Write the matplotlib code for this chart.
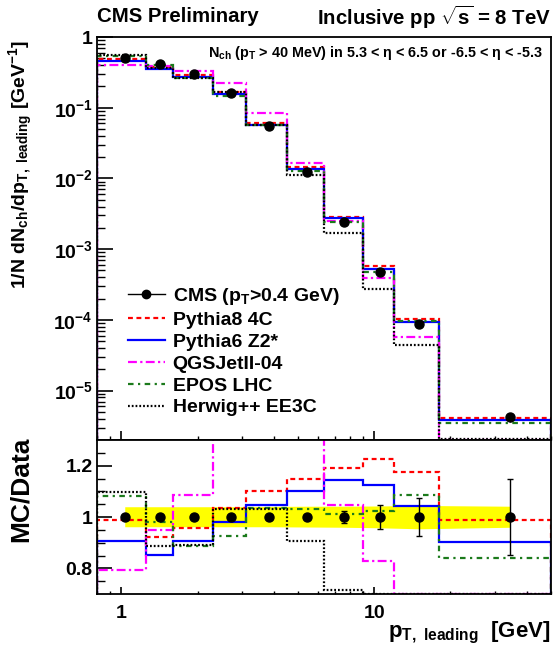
import numpy as np
import matplotlib
matplotlib.use("Agg")
import matplotlib.pyplot as plt
from matplotlib.lines import Line2D
from matplotlib.ticker import FixedLocator, NullFormatter

plt.rcParams['font.family'] = ['Liberation Sans', 'DejaVu Sans']
plt.rcParams['font.weight'] = 'bold'
plt.rcParams['mathtext.fontset'] = 'custom'
plt.rcParams['mathtext.rm'] = 'Liberation Sans:bold'
plt.rcParams['mathtext.it'] = 'Liberation Sans:bold'
plt.rcParams['mathtext.bf'] = 'Liberation Sans:bold'
plt.rcParams['mathtext.sf'] = 'Liberation Sans:bold'

# bin edges in pT,leading [GeV]
edges = [0.8, 1.25, 1.6, 2.3, 3.1, 4.5, 6.3, 9.0, 12.0, 18.0, 50.0]

# CMS data
data_x = [1.03, 1.42, 1.94, 2.71, 3.84, 5.42, 7.58, 10.5, 15.0, 34.4]
data_y = [0.50, 0.41, 0.30, 0.16, 0.055, 0.0125, 2.4e-3, 4.7e-4, 8.8e-5, 4.2e-6]
data_err_rel = [0.005, 0.005, 0.005, 0.005, 0.005, 0.008, 0.022, 0.045, 0.073, 0.147]
band_lo = [0.962, 0.962, 0.962, 0.962, 0.962, 0.961, 0.960, 0.958, 0.954, 0.960]
band_hi = [1.040, 1.040, 1.040, 1.040, 1.041, 1.042, 1.042, 1.043, 1.045, 1.042]

# MC / Data ratios per bin
r_py8 = [0.989, 0.923, 0.958, 1.036, 1.102, 1.149, 1.192, 1.226, 1.174, 0.987]
r_py6 = [0.907, 0.851, 0.907, 0.982, 1.046, 1.103, 1.145, 1.124, 1.044, 0.902]
r_qgs = [0.795, 0.950, 1.086, 1.38, 1.55, 1.31, 1.045, 0.83, 0.65, 0.02]
r_epos = [1.080, 0.980, 0.888, 0.927, 1.034, 1.031, 1.013, 1.023, 1.085, 0.839]
r_herwig = [1.098, 0.887, 0.889, 1.030, 1.030, 0.905, 0.715, 0.59, 0.505, 0.5]

models = [
    ("Pythia8 4C", r_py8, "#ff0000", (0, (2.2, 1.6))),
    ("Pythia6 Z2*", r_py6, "#0000ff", "-"),
    ("QGSJetII-04", r_qgs, "#ff00ff", (0, (4, 1.5, 1, 1.5))),
    ("EPOS LHC", r_epos, "#1b7a1b", (0, (2.5, 2, 1, 2))),
    ("Herwig++ EE3C", r_herwig, "#000000", (0, (0.8, 0.9))),
]

ytick_vals = [1, 1e-1, 1e-2, 1e-3, 1e-4, 1e-5]
ytick_labels = ['1', r'$10^{-1}$', r'$10^{-2}$', r'$10^{-3}$', r'$10^{-4}$', r'$10^{-5}$']

W, H = 555, 656
fig = plt.figure(figsize=(W / 100, H / 100), dpi=100)
left, right = 97 / W, 551 / W
ax = fig.add_axes([left, 1 - 440 / H, right - left, (440 - 37) / H])
rax = fig.add_axes([left, 1 - 594 / H, right - left, (594 - 440) / H])

dy = np.array(data_y)
dx = np.array(data_x)
derr = np.array(data_err_rel)

# upper panel
ymin, ymax = 2e-6, 1.0
for name, r, c, ls in models:
    mc = np.clip(dy * np.array(r), ymin, None)
    ax.stairs(mc, edges, baseline=1e-12, color=c, ls=ls, lw=1.6, zorder=2)
ax.errorbar(dx, dy, yerr=dy * derr, fmt='o', color='k', ms=6.5, lw=1, capsize=0, zorder=5)
ax.set_xscale('log')
ax.set_yscale('log')
ax.set_xlim(0.8, 50)
ax.set_ylim(ymin, ymax)
ax.yaxis.set_major_locator(FixedLocator(ytick_vals))
ax.set_yticklabels(ytick_labels, fontsize=14)
ax.yaxis.set_minor_locator(FixedLocator([m * 10.0 ** e for e in range(-6, 0) for m in range(2, 10)]))
ax.yaxis.set_minor_formatter(NullFormatter())
ax.xaxis.set_major_locator(FixedLocator([1, 10]))
ax.xaxis.set_minor_locator(FixedLocator([0.8, 0.9] + list(range(2, 10)) + [20, 30, 40, 50]))
ax.set_xticklabels([])
ax.xaxis.set_minor_formatter(NullFormatter())
ax.tick_params(axis='y', which='major', direction='in', length=11.5, width=1.2, right=False, pad=3)
ax.tick_params(axis='y', which='minor', direction='in', length=5.5, width=1.0, right=False)
ax.tick_params(axis='x', which='major', direction='in', length=6.5, width=1.2, top=False)
ax.tick_params(axis='x', which='minor', direction='in', length=3, width=1.0, top=False)

ax.text(208 / W, 1 - 53 / H,
        r"N$_{\rm ch}$ (p$_{\rm T}$ > 40 MeV) in 5.3 < $\eta$ < 6.5 or -6.5 < $\eta$ < -5.3",
        transform=fig.transFigure, fontsize=10.4, va='center', ha='left')

handles = [Line2D([], [], color='k', marker='o', ms=6, lw=1)]
labels = [r"CMS (p$_{\rm T}$>0.4 GeV)"]
for name, r, c, ls in models:
    handles.append(Line2D([], [], color=c, ls=ls, lw=1.6))
    labels.append(name)
ax.legend(handles, labels, loc='upper left', bbox_to_anchor=(128 / W, 1 - 286 / H),
          bbox_transform=fig.transFigure, frameon=False, fontsize=14,
          handlelength=1.9, handletextpad=0.4, labelspacing=0.22, borderpad=0, borderaxespad=0)

# ratio panel
rax.fill_between(dx, band_lo, band_hi, color='#ffff00', lw=0, zorder=1)
for name, r, c, ls in models:
    rr = np.clip(np.array(r), 0.7, None)
    rax.stairs(rr, edges, baseline=0, color=c, ls=ls, lw=1.6, zorder=2)
rax.errorbar(dx, np.ones_like(dx), yerr=derr, fmt='o', color='k', ms=6.5, lw=1,
             capsize=2.5, capthick=1, zorder=5)
rax.set_xscale('log')
rax.set_xlim(0.8, 50)
rax.set_ylim(0.7, 1.3)
rax.yaxis.set_major_locator(FixedLocator([0.8, 1.0, 1.2]))
rax.set_yticklabels(['0.8', '1', '1.2'], fontsize=14)
rax.yaxis.set_minor_locator(FixedLocator([0.75, 0.85, 0.9, 0.95, 1.05, 1.1, 1.15, 1.25]))
rax.xaxis.set_major_locator(FixedLocator([1, 10]))
rax.set_xticklabels(['1', '10'], fontsize=14)
rax.xaxis.set_minor_locator(FixedLocator([0.8, 0.9] + list(range(2, 10)) + [20, 30, 40, 50]))
rax.xaxis.set_minor_formatter(NullFormatter())
rax.tick_params(axis='y', which='major', direction='in', length=11, width=1.2, right=False, pad=3)
rax.tick_params(axis='y', which='minor', direction='in', length=5.5, width=1.0, right=False)
rax.tick_params(axis='x', which='major', direction='in', length=5, width=1.2, top=False, pad=8)
rax.tick_params(axis='x', which='minor', direction='in', length=2.5, width=1.0, top=False)

for a in (ax, rax):
    for s in a.spines.values():
        s.set_linewidth(1.3)

# labels and titles
fig.text(97 / W, 1 - 17 / H, "CMS Preliminary", fontsize=14.7, ha='left', va='center')
fig.text(551 / W, 1 - 17 / H, r"Inclusive pp $\sqrt{\rm s}$ = 8 TeV", fontsize=14.7, ha='right', va='center')
fig.text(21 / W, 1 - 40 / H,
         r"1/N dN$_{\rm ch}$/dp$_{\rm T,\ leading}$ [GeV$^{-1}$]",
         rotation=90, fontsize=14, ha='center', va='top')
fig.text(21 / W, 1 - 437 / H, "MC/Data", rotation=90, fontsize=19, ha='center', va='top')
fig.text(551 / W, 1 - 637 / H, r"p$_{\rm T,\ leading}$  [GeV]", fontsize=16, ha='right', va='baseline')

fig.savefig("out.png", dpi=100)
